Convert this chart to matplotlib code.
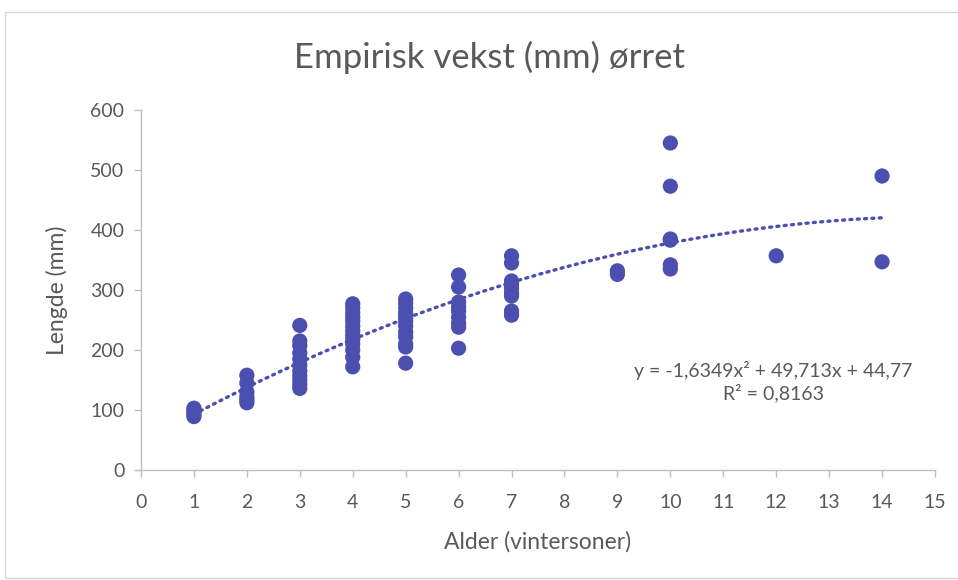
import matplotlib
matplotlib.use("Agg")
import matplotlib.pyplot as plt
import numpy as np
from matplotlib.patches import Rectangle

plt.rcParams['font.family'] = ['Lato', 'DejaVu Sans']

# Data
ages = {
    1: [103, 100, 97, 93, 89],
    2: [158, 145, 130, 122, 117, 112],
    3: [241, 215, 207, 195, 185, 175, 165, 157, 150, 143, 136],
    4: [277, 270, 262, 255, 248, 240, 232, 225, 218, 210, 200, 188, 172],
    5: [285, 278, 270, 262, 255, 248, 240, 230, 222, 210, 205, 178],
    6: [325, 305, 280, 272, 265, 255, 245, 238, 203],
    7: [357, 345, 315, 310, 303, 295, 290, 265, 258],
    9: [332, 326],
    10: [545, 473, 385, 383, 342, 335],
    12: [357],
    14: [490, 347],
}
x_vals = [a for a, vs in ages.items() for _ in vs]
y_vals = [v for vs in ages.values() for v in vs]

trend_coeffs = [-1.6349, 49.713, 44.77]
trend_range = [1, 14]

title = "Empirisk vekst (mm) ørret"
xlabel = "Alder (vintersoner)"
ylabel = "Lengde (mm)"
eq_text = "y = -1,6349x² + 49,713x + 44,77\nR² = 0,8163"

col = '#4a4fb0'
grey = '#595959'
axcol = '#bfbfbf'

fig = plt.figure(figsize=(9.58, 5.8), dpi=100)
fig.patches.append(Rectangle((5/958, 2/580), 1.0, 566/580, transform=fig.transFigure,
                             fill=False, edgecolor='#d9d9d9', linewidth=1.0))
ax = fig.add_axes([141/958, 1-470/580, (935-141)/958, 360/580])

ax.scatter(x_vals, y_vals, s=120, color=col, edgecolors='none', zorder=3)
xt = np.linspace(trend_range[0], trend_range[1], 200)
ax.plot(xt, np.polyval(trend_coeffs, xt), color=col, linewidth=2.4,
        linestyle=(0, (0.6, 1.6)), dash_capstyle='round', zorder=2)

ax.set_xlim(0, 15)
ax.set_ylim(0, 600)
ax.set_xticks(range(0, 16))
ax.set_yticks(range(0, 601, 100))
for s in ['top', 'right']:
    ax.spines[s].set_visible(False)
for s in ['left', 'bottom']:
    ax.spines[s].set_color(axcol)
    ax.spines[s].set_linewidth(1.0)
ax.tick_params(axis='both', colors=axcol, labelcolor=grey, labelsize=14, length=5, width=1)
ax.tick_params(axis='x', pad=12)
ax.tick_params(axis='y', pad=7)

ax.set_xlabel(xlabel, color=grey, fontsize=16.5, labelpad=15)
ax.set_ylabel(ylabel, color=grey, fontsize=16.5, labelpad=16)
fig.text(489/958, 1-57/580, title, ha='center', va='center', color=grey, fontsize=25)
ax.text(11.95, 147, eq_text, ha='center', va='center', color=grey,
        fontsize=14, linespacing=1.25)

fig.savefig('out.png', dpi=100, facecolor='white')
